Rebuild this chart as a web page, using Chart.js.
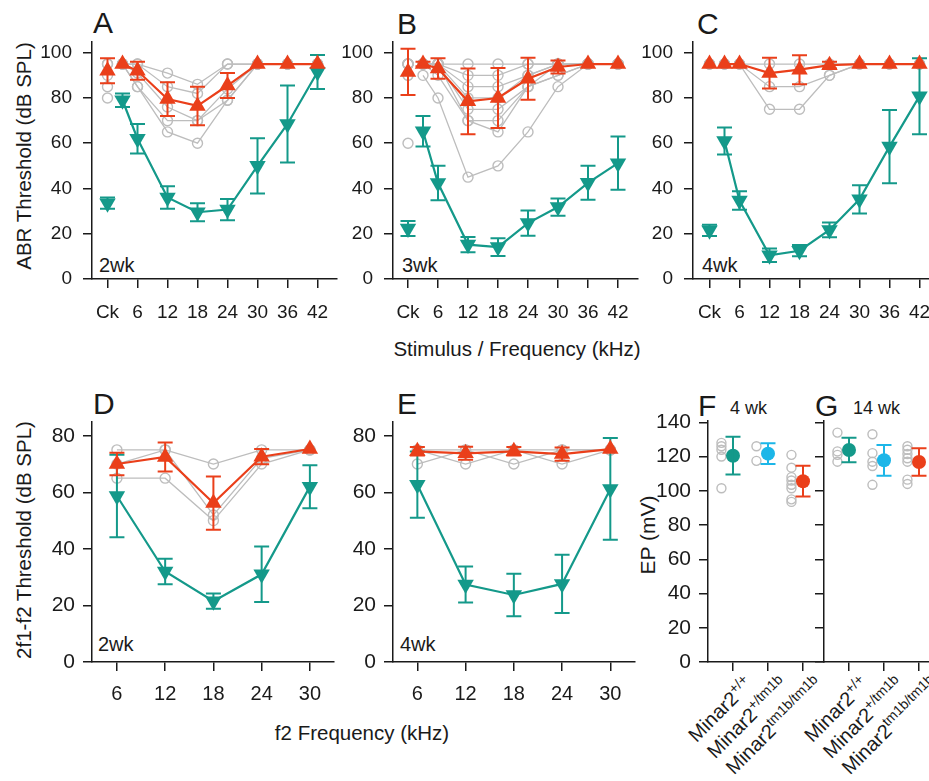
<!DOCTYPE html>
<html>
<head>
<meta charset="utf-8">
<script src="https://cdn.jsdelivr.net/npm/chart.js@4.4.1/dist/chart.umd.min.js"></script>
<style>
  body { margin: 0; width: 929px; height: 781px; overflow: hidden; background: #fff; position: relative;
         font-family: Arial, 'Liberation Sans', sans-serif; color: #1a1a1a; }
  .t { position: absolute; white-space: nowrap; line-height: 1; }
  .letter { font-size: 30px; }
  .age { font-size: 20px; }
  .title { font-size: 20.5px; }
  .rot { transform: translate(-50%, -50%) rotate(-90deg); }
  .geno { position: absolute; white-space: nowrap; font-size: 20px; line-height: 1.2;
          transform-origin: 100% 0; transform: rotate(-45deg); }
  .geno sup { font-size: 14px; }
</style>
</head>
<body>
<div class="t letter" style="left:93px;top:8px">A</div>
<div class="t letter" style="left:397px;top:9px">B</div>
<div class="t letter" style="left:697px;top:9px">C</div>
<div class="t letter" style="left:93px;top:389px">D</div>
<div class="t letter" style="left:397px;top:389px">E</div>
<div class="t letter" style="left:698px;top:391px">F</div>
<div class="t letter" style="left:815px;top:391px">G</div>
<div class="t" style="left:730px;top:399px;font-size:18px">4 wk</div>
<div class="t" style="left:853px;top:399px;font-size:18px">14 wk</div>

<div class="t age" style="left:99px;top:255px">2wk</div>
<div class="t age" style="left:402px;top:255px">3wk</div>
<div class="t age" style="left:702px;top:255px">4wk</div>
<div class="t age" style="left:98px;top:634px">2wk</div>
<div class="t age" style="left:400px;top:634px">4wk</div>

<div class="t title rot" style="left:24px;top:156px">ABR Threshold (dB SPL)</div>
<div class="t title" style="left:517px;top:349px;transform:translate(-50%,-50%)">Stimulus / Frequency (kHz)</div>
<div class="t title rot" style="left:24px;top:540px">2f1-f2 Threshold (dB SPL)</div>
<div class="t title" style="left:362px;top:733px;transform:translate(-50%,-50%)">f2 Frequency (kHz)</div>
<div class="t title rot" style="left:647px;top:535px;font-size:21px">EP (mV)</div>

<div id="genoLabels"></div>

<script>
// ABR: x = frequency in kHz, 0 stands for the click stimulus (Ck)
const abrFreq = [0, 3, 6, 12, 18, 24, 30, 36, 42]
const abrTicks = [0, 6, 12, 18, 24, 30, 36, 42]

// A, 2 wk
const aMut = [92, 95, 92, 79.5, 76.5, 85.5, 95, 95, 95]
const aMutErr = [5.5, 0, 4, 7.5, 8.5, 5.5, 0, 0, 0]
const aCtrl = [33.5, 79, 62, 36, 29.5, 30.7, 50, 68.5, 91.5]
const aCtrlErr = [2.5, 3, 6.5, 5, 4, 4.7, 12.2, 17, 7.5]
const aMice = [
  [95, 95, 95, 91, 86, 95, 95, 95, 95],
  [95, 95, 95, 85, 82, 95, 95, 95, 95],
  [90, 95, 91, 76, 70, 84, 95, 95, 95],
  [85, 95, 85, 70, 70, 79, 95, 95, 95],
  [80, 95, 85, 65, 60, 79, 95, 95, 95]
]

// B, 3 wk
const bMut = [91.5, 95, 93, 78.5, 80, 88.5, 93.7, 95, 95]
const bMutErr = [10.2, 1, 4.5, 14.5, 13.3, 9.3, 2.9, 0, 0]
const bCtrl = [22.3, 65.3, 42.4, 15.2, 14.1, 24.7, 31.8, 42.5, 51.2]
const bCtrlErr = [3.3, 6.7, 7.6, 3.4, 3.9, 5.6, 3.8, 7.5, 11.8]
const bMice = [
  [95, 95, 95, 95, 95, 95, 95, 95, 95],
  [95, 95, 95, 90, 90, 95, 95, 95, 95],
  [95, 95, 95, 85, 85, 90, 95, 95, 95],
  [95, 95, 95, 80, 80, 90, 95, 95, 95],
  [90, 95, 95, 75, 75, 85, 90, 95, 95],
  [95, 95, 95, 70, 70, 85, 95, 95, 95],
  [90, 95, 90, 70, 65, 85, 90, 95, 95],
  [60, 90, 80, 45, 50, 65, 85, 95, 95]
]

// C, 4 wk
const cMut = [95, 95, 95, 91, 92.5, 94.5, 95, 95, 95]
const cMutErr = [0, 0, 0, 6.8, 6.4, 1.5, 0, 0, 0]
const cCtrl = [21.5, 61, 34.7, 10.5, 12.5, 21.7, 35.2, 58.5, 80.8]
const cCtrlErr = [2.5, 6, 4.1, 3, 2.5, 3.3, 6.2, 16.2, 16.8]
const cMice = [
  [95, 95, 95, 95, 95, 95, 95, 95, 95],
  [95, 95, 95, 85, 85, 90, 95, 95, 95],
  [95, 95, 95, 75, 75, 90, 95, 95, 95]
]

// DPOAE: f2 frequency in kHz
const dpFreq = [6, 12, 18, 24, 30]

// D, 2 wk
const dMut = [70, 72.5, 56.2, 72.6, 75.3]
const dMutErr = [4, 5.1, 9.4, 2.7, 0]
const dCtrl = [58.7, 32, 21.5, 31, 62]
const dCtrlErr = [14.6, 4.5, 2.7, 9.8, 7.6]
const dMice = [
  [75, 75, 70, 75, 75],
  [65, 65, 50, 70, 75],
  [70, 75, 52, 72, 75]
]

// E, 4 wk
const eMut = [74.5, 73.8, 74.5, 73.5, 75.3]
const eMutErr = [1.5, 2.3, 1.5, 2.3, 0]
const eCtrl = [62.7, 27.4, 23.7, 27.6, 61.2]
const eCtrlErr = [11.7, 6.4, 7.5, 10.3, 18]
const eMice = [
  [75, 70, 75, 70, 75],
  [70, 75, 70, 75, 75],
  [75, 75, 75, 75, 75]
]

// EP (mV): Minar2 +/+, +/tm1b, tm1b/tm1b
const epGenotypes = ['+/+', '+/tm1b', 'tm1b/tm1b']
const fMean = [120.5, 121.7, 105.6]
const fErr = [11, 6, 9]
const fWt = [128, 126, 124, 120, 101.5]
const fHet = [126, 117.5]
const fMut = [121, 113.5, 108, 106, 103.5, 101.5, 95, 93.5]
const gMean = [123.8, 117.8, 116.8]
const gErr = [7.2, 9, 8]
const gWt = [134, 123, 121, 117]
const gHet = [133, 122, 117, 114.5, 103.5]
const gMut = [126, 124, 121.5, 119, 117, 106.5, 104]

const FONT = "Arial, 'Liberation Sans', sans-serif"
const INK = '#1a1a1a'
const RED = '#ea3f1a'
const TEAL = '#14998a'
const CYAN = '#1cb6e8'
const GRAY = '#bdbdbd'

// vertical error bars with caps, drawn right after their dataset
const errorBars = {
  id: 'errorBars',
  afterDatasetDraw(chart, args) {
    const ds = chart.data.datasets[args.index]
    if (!ds.err) return
    const y = chart.scales.y
    const ctx = chart.ctx
    const cap = 7.5
    ctx.save()
    ctx.lineWidth = 2
    args.meta.data.forEach((pt, i) => {
      const e = ds.err[i]
      if (!e) return
      const v = ds.data[i].y
      const top = y.getPixelForValue(v + e)
      const bot = y.getPixelForValue(v - e)
      const col = ds.errColor || ds.borderColor
      ctx.strokeStyle = Array.isArray(col) ? col[i] : col
      ctx.beginPath()
      ctx.moveTo(pt.x, top)
      ctx.lineTo(pt.x, bot)
      ctx.moveTo(pt.x - cap, top)
      ctx.lineTo(pt.x + cap, top)
      ctx.moveTo(pt.x - cap, bot)
      ctx.lineTo(pt.x + cap, bot)
      ctx.stroke()
    })
    ctx.restore()
  }
}

function axis(min, max, ticks, size, pad, fmt) {
  return {
    type: 'linear',
    min: min,
    max: max,
    afterBuildTicks: s => { s.ticks = ticks.map(v => ({ value: v })) },
    grid: { drawOnChartArea: false, tickLength: 9, color: INK, lineWidth: 1.5 },
    border: { color: INK, width: 1.5 },
    ticks: {
      autoSkip: false,
      maxRotation: 0,
      color: INK,
      padding: pad,
      font: { family: FONT, size: size },
      callback: fmt || (v => v)
    }
  }
}

// left/top/right/bottom = plot area in page pixels
function panel(left, top, right, bottom, x, y, datasets) {
  const yw = 80, xh = 50, pt = 20, pr = 16
  const c = document.createElement('canvas')
  c.width = yw + (right - left) + pr
  c.height = pt + (bottom - top) + xh
  c.style.cssText = 'position:absolute;left:' + (left - yw) + 'px;top:' + (top - pt) + 'px'
  document.body.appendChild(c)
  x.afterFit = s => { s.height = xh }
  y.afterFit = s => { s.width = yw }
  return new Chart(c, {
    type: 'line',
    data: { datasets: datasets },
    options: {
      responsive: false,
      animation: false,
      events: [],
      layout: { autoPadding: false, padding: { top: pt, right: pr, left: 0, bottom: 0 } },
      plugins: { legend: { display: false }, tooltip: { enabled: false } },
      scales: { x: x, y: y }
    },
    plugins: [errorBars]
  })
}

function pts(xs, ys) {
  return xs.map((f, i) => ({ x: f, y: ys[i] }))
}

// no line between the click point and the tone points
const skipClick = { borderColor: c => c.p0DataIndex === 0 && c.p0.parsed.x === 0 ? 'rgba(0,0,0,0)' : undefined }

function curveSets(xs, mut, mutErr, ctrl, ctrlErr, mice) {
  const mean = (ys, err, col, rot) => ({
    data: pts(xs, ys), err: err,
    borderColor: col, backgroundColor: col, borderWidth: 2.2,
    pointStyle: 'triangle', pointRotation: rot, pointRadius: 9.5,
    pointBorderWidth: 0, pointBackgroundColor: col,
    clip: false, segment: skipClick
  })
  return [
    mean(mut, mutErr, RED, 0),
    mean(ctrl, ctrlErr, TEAL, 180),
    ...mice.map(m => ({
      data: pts(xs, m),
      borderColor: GRAY, borderWidth: 1.3,
      pointStyle: 'circle', pointRadius: 5, pointBorderWidth: 1.4,
      pointBorderColor: GRAY, pointBackgroundColor: 'rgba(0,0,0,0)',
      clip: false, segment: skipClick
    }))
  ]
}

const abrX = (min, max) => axis(min, max, abrTicks, 19, 13, v => v === 0 ? 'Ck' : v)
const abrY = () => axis(0, 105, [0, 20, 40, 60, 80, 100], 19, 11)

panel(92, 39, 337, 279, abrX(-3.1, 45.9), abrY(), curveSets(abrFreq, aMut, aMutErr, aCtrl, aCtrlErr, aMice))
panel(393, 39, 638, 279, abrX(-3, 46), abrY(), curveSets(abrFreq, bMut, bMutErr, bCtrl, bCtrlErr, bMice))
panel(693, 39, 938, 279, abrX(-3.3, 45.7), abrY(), curveSets(abrFreq, cMut, cMutErr, cCtrl, cCtrlErr, cMice))

const dpX = (min, max) => axis(min, max, dpFreq, 20, 11)
const dpY = () => axis(0, 85, [0, 20, 40, 60, 80], 21, 8)

panel(92, 421, 334, 662, dpX(2.9, 33), dpY(), curveSets(dpFreq, dMut, dMutErr, dCtrl, dCtrlErr, dMice))
panel(393, 421, 635, 662, dpX(2.97, 33.07), dpY(), curveSets(dpFreq, eMut, eMutErr, eCtrl, eCtrlErr, eMice))

// EP panels
function epSets(mean, err, wt, het, mut) {
  const cols = [TEAL, CYAN, RED]
  const dots = (vals, k) => ({
    data: vals.map(v => ({ x: k + 1 - 0.33, y: v })),
    showLine: false, pointStyle: 'circle', pointRadius: 4.5, pointBorderWidth: 1.4,
    pointBorderColor: GRAY, pointBackgroundColor: 'rgba(0,0,0,0)', clip: false
  })
  return [
    {
      data: mean.map((v, i) => ({ x: i + 1, y: v })), err: err, errColor: cols,
      showLine: false, pointStyle: 'circle', pointRadius: 7, pointBorderWidth: 0,
      pointBackgroundColor: cols, borderColor: cols, clip: false
    },
    dots(wt, 0), dots(het, 1), dots(mut, 2)
  ]
}

const epX = () => axis(0.286, 3.6, [1, 2, 3], 19, 8, () => '')
const epTicks = [0, 20, 40, 60, 80, 100, 120, 140]

panel(708, 420, 824, 662, epX(), axis(0, 141, epTicks, 21, 8), epSets(fMean, fErr, fWt, fHet, fMut))
panel(824, 420, 940, 662, epX(), axis(0, 141, epTicks, 21, 8, () => ''), epSets(gMean, gErr, gWt, gHet, gMut))

// rotated genotype labels under F and G
const genoHost = document.getElementById('genoLabels')
const tickX = [[733, 768, 803], [849, 884, 919]]
tickX.forEach(row => row.forEach((x, i) => {
  const d = document.createElement('div')
  d.className = 'geno'
  d.style.right = (929 - x - 6) + 'px'
  d.style.top = '671px'
  d.innerHTML = 'Minar2<sup>' + epGenotypes[i] + '</sup>'
  genoHost.appendChild(d)
}))
</script>
</body>
</html>
